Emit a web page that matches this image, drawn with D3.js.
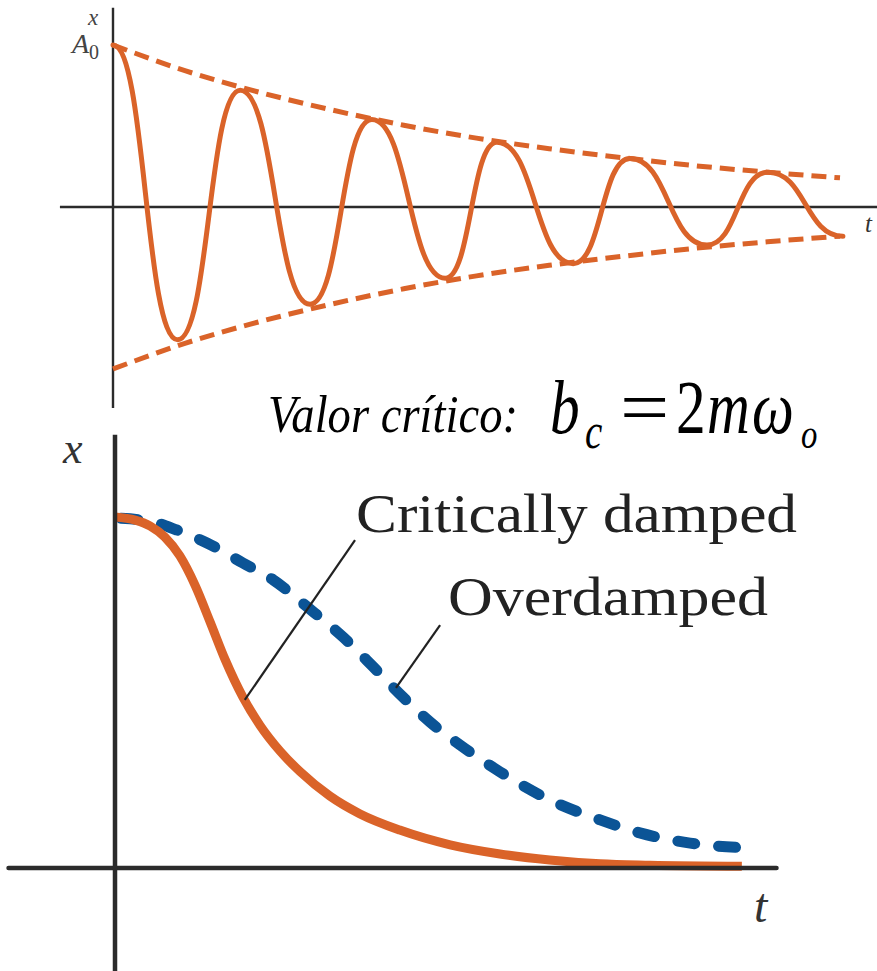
<!DOCTYPE html>
<html>
<head>
<meta charset="utf-8">
<script src="https://cdn.jsdelivr.net/npm/d3@7/dist/d3.min.js"></script>
<style>
  html, body { margin: 0; padding: 0; background: #ffffff; }
  svg { display: block; }
</style>
</head>
<body>
<script>
// ---- Underdamped oscillation (upper panel) ----
// extrema of the displacement curve: time, displacement (A0 = 1)
const waveT = [0, 0.89, 1.75, 2.71, 3.56, 4.57, 5.28, 6.33, 7.11, 8.17, 9.01, 10.04];
const waveX = [1.0, -0.82, 0.72, -0.60, 0.54, -0.44, 0.40, -0.35, 0.30, -0.235, 0.215, -0.18];
// decaying amplitude envelope
const envT   = [0, 1, 2, 3, 4, 5, 6, 7, 8, 9, 10];
const envAmp = [1.0, 0.84, 0.71, 0.60, 0.505, 0.425, 0.36, 0.305, 0.255, 0.215, 0.18];

// ---- Critically damped / overdamped (lower panel) ----
const critT = [0, 0.32, 0.56, 0.79, 1.03, 1.27, 1.51, 1.75, 2.03, 2.30, 2.62, 2.94, 3.41, 3.89, 4.52, 5.32, 6.11, 6.90, 7.70, 8.49, 9.95];
const critX = [1.0, 0.991, 0.974, 0.943, 0.889, 0.806, 0.701, 0.593, 0.487, 0.407, 0.333, 0.274, 0.205, 0.154, 0.108, 0.066, 0.040, 0.023, 0.012, 0.008, 0.005];
const overT = [0, 0.60, 0.98, 1.46, 2.03, 2.51, 3.05, 3.62, 4.10, 4.57, 5.00, 5.48, 6.11, 6.90, 7.70, 8.33, 9.13, 10.03];
const overX = [0.997, 0.986, 0.963, 0.926, 0.869, 0.821, 0.744, 0.658, 0.573, 0.487, 0.416, 0.350, 0.274, 0.194, 0.137, 0.100, 0.071, 0.057];

// curve labels and their leader lines (lower-panel data coordinates)
const curveLabels = ["Critically damped", "Overdamped"];
const leaderFrom  = [[2.06, 0.479], [4.46, 0.513]];
const leaderTo    = [[3.81, 0.934], [5.16, 0.692]];

// ---- layout ----
const W = 877, H = 971;
const ORANGE = "#da6329", BLUE = "#0b5496", INK = "#2b2b2b";
const SERIF = "'Liberation Serif', 'Times New Roman', 'DejaVu Serif', serif";

const svg = d3.select("body").append("svg")
  .attr("width", W).attr("height", H)
  .attr("viewBox", `0 0 ${W} ${H}`);

const zip = (a, b) => a.map((v, i) => [v, b[i]]);

// ===== upper panel =====
const tx = d3.scaleLinear().domain([0, 10]).range([113, 840]);
const ty = d3.scaleLinear().domain([-1, 1]).range([369, 45]);

const upperG = svg.append("g");

// axes
upperG.append("line")
  .attr("x1", tx(-0.73)).attr("x2", tx(10.9))
  .attr("y1", ty(0)).attr("y2", ty(0))
  .attr("stroke", INK).attr("stroke-width", 2.4);
upperG.append("line")
  .attr("x1", tx(0)).attr("x2", tx(0))
  .attr("y1", ty(1.23)).attr("y2", ty(-1.24))
  .attr("stroke", INK).attr("stroke-width", 2.4);

// envelope (dashed)
const envLine = d3.line().x(d => tx(d[0])).y(d => ty(d[1])).curve(d3.curveMonotoneX);
const envUpper = zip(envT, envAmp.map(a => a));
const envLower = zip(envT, envAmp.map(a => -a));
[envUpper, envLower].forEach(pts => {
  upperG.append("path")
    .attr("d", envLine(pts))
    .attr("fill", "none")
    .attr("stroke", ORANGE)
    .attr("stroke-width", 5)
    .attr("stroke-dasharray", "15,8");
});

// oscillation: horizontal tangents at every extremum
const waveLine = d3.line().x(d => tx(d[0])).y(d => ty(d[1])).curve(d3.curveBumpX);
upperG.append("path")
  .attr("d", waveLine(zip(waveT, waveX)))
  .attr("fill", "none")
  .attr("stroke", ORANGE)
  .attr("stroke-width", 5)
  .attr("stroke-linecap", "round")
  .attr("stroke-linejoin", "round");

// axis labels
upperG.append("text")
  .attr("x", 88).attr("y", 25)
  .attr("font-family", SERIF).attr("font-style", "italic")
  .attr("font-size", 23).attr("fill", "#444")
  .text("x");
const a0 = upperG.append("text")
  .attr("x", 72).attr("y", 53)
  .attr("font-family", SERIF).attr("fill", "#444");
a0.append("tspan").attr("font-style", "italic").attr("font-size", 28).text("A");
a0.append("tspan").attr("font-size", 20).attr("dy", 6).text("0");
upperG.append("text")
  .attr("x", 865).attr("y", 232)
  .attr("font-family", SERIF).attr("font-style", "italic")
  .attr("font-size", 25).attr("fill", "#333")
  .text("t");

// ===== critical value formula =====
const fx = svg.append("g").attr("font-family", SERIF).attr("fill", "#000");
fx.append("text")
  .attr("x", 268).attr("y", 432)
  .attr("font-style", "italic").attr("font-size", 52)
  .attr("textLength", 250).attr("lengthAdjust", "spacingAndGlyphs")
  .text("Valor crítico:");

// b_c = 2mω_o, set in a horizontally condensed serif; the "=" keeps full width
const FX_SCALE = 0.78;
const lhs = [
  { s: "b", dx: 0,  sub: false, size: 76 },
  { s: "c", dx: 35, sub: true,  size: 50 }
];
const rhs = [
  { s: "2", dx: 0,  sub: false, size: 76, it: false },
  { s: "m", dx: 31, sub: false, size: 76, it: true },
  { s: "ω", dx: 76, sub: false, size: 76, it: true },
  { s: "o", dx: 125, sub: true, size: 42, it: true }
];
const lhsText = fx.append("text")
  .attr("transform", `translate(550,433) scale(${FX_SCALE},1)`)
  .attr("font-style", "italic");
lhs.forEach(p => {
  lhsText.append("tspan")
    .attr("x", p.dx / FX_SCALE).attr("y", p.sub ? 15 : 0)
    .attr("font-size", p.size).text(p.s);
});
fx.append("text")
  .attr("transform", "translate(620,433) scale(1.15,1)")
  .attr("font-size", 76)
  .text("=");
const rhsText = fx.append("text")
  .attr("transform", `translate(676,433) scale(${FX_SCALE},1)`);
rhs.forEach(p => {
  rhsText.append("tspan")
    .attr("x", p.dx / FX_SCALE).attr("y", p.sub ? 15 : 0)
    .attr("font-size", p.size)
    .attr("font-style", p.it ? "italic" : "normal")
    .text(p.s);
});

// ===== lower panel =====
const bx = d3.scaleLinear().domain([0, 10]).range([115, 745]);
const by = d3.scaleLinear().domain([0, 1]).range([868, 517]);
const lowerG = svg.append("g");

const bLine = d3.line().x(d => bx(d[0])).y(d => by(d[1])).curve(d3.curveMonotoneX);

// overdamped (dashed blue)
lowerG.append("path")
  .attr("d", bLine(zip(overT, overX)))
  .attr("fill", "none")
  .attr("stroke", BLUE)
  .attr("stroke-width", 11)
  .attr("stroke-linecap", "round")
  .attr("stroke-dasharray", "17,24")
  .attr("stroke-dashoffset", -6);

// critically damped (solid orange)
lowerG.append("path")
  .attr("d", bLine(zip(critT, critX)))
  .attr("fill", "none")
  .attr("stroke", ORANGE)
  .attr("stroke-width", 9)
  .attr("stroke-linejoin", "round");

// leader lines
curveLabels.forEach((lab, i) => {
  lowerG.append("line")
    .attr("x1", bx(leaderFrom[i][0])).attr("y1", by(leaderFrom[i][1]))
    .attr("x2", bx(leaderTo[i][0])).attr("y2", by(leaderTo[i][1]))
    .attr("stroke", "#222").attr("stroke-width", 2.2);
});

// labels
const labelPos = [{ x: 356, y: 532, w: 441 }, { x: 448, y: 615, w: 320 }];
curveLabels.forEach((lab, i) => {
  lowerG.append("text")
    .attr("x", labelPos[i].x).attr("y", labelPos[i].y)
    .attr("font-family", SERIF).attr("font-size", 54)
    .attr("fill", "#222")
    .attr("textLength", labelPos[i].w).attr("lengthAdjust", "spacingAndGlyphs")
    .text(lab);
});

// axes drawn over the curves
lowerG.append("line")
  .attr("x1", bx(-1.69)).attr("x2", bx(10.5))
  .attr("y1", by(0)).attr("y2", by(0))
  .attr("stroke", INK).attr("stroke-width", 4.5)
  .attr("stroke-linecap", "round");
lowerG.append("line")
  .attr("x1", bx(0)).attr("x2", bx(0))
  .attr("y1", by(1.234)).attr("y2", by(-0.3))
  .attr("stroke", INK).attr("stroke-width", 4.5);

lowerG.append("text")
  .attr("x", 63).attr("y", 463)
  .attr("font-family", SERIF).attr("font-style", "italic")
  .attr("font-size", 44).attr("fill", "#333")
  .text("x");
lowerG.append("text")
  .attr("x", 754).attr("y", 922)
  .attr("font-family", SERIF).attr("font-style", "italic")
  .attr("font-size", 48).attr("fill", "#333")
  .text("t");
</script>
</body>
</html>
